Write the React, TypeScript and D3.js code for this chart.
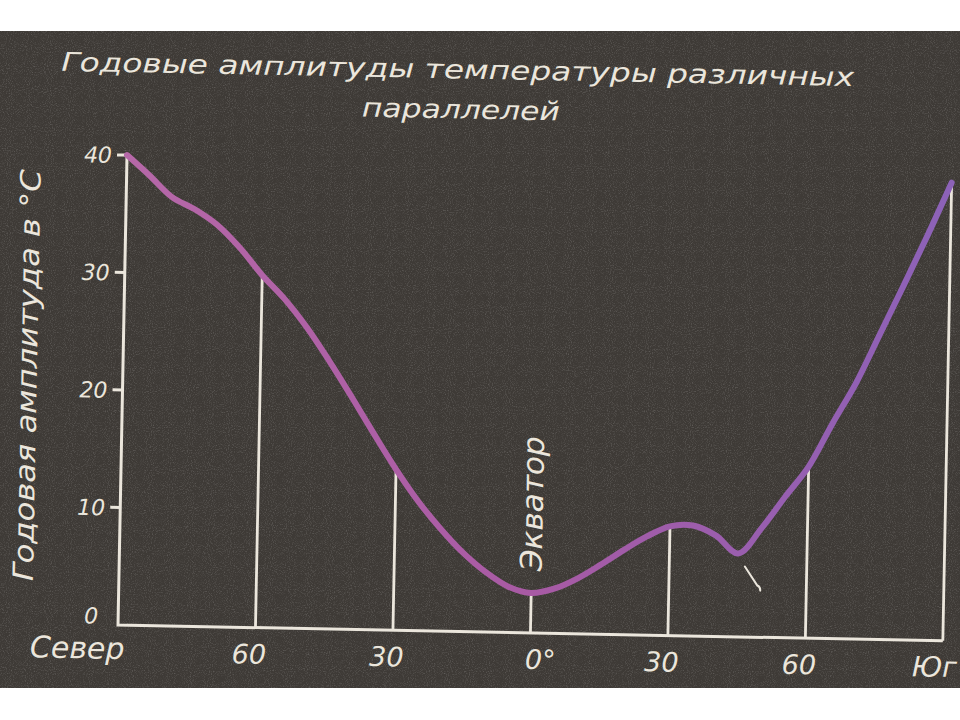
import React from 'react';
import * as d3 from 'd3';

// Latitude position: -90 = North pole (Север), 0 = Equator, +90 = South pole (Юг)
const latitudes = [-90, -85, -80, -75, -70, -65, -60, -55, -50, -45, -40, -35, -30, -25, -20, -15, -10, -5, 0, 5, 10, 15, 20, 25, 30, 35, 40, 45, 50, 55, 60, 65, 70, 75, 80, 85, 90];
const amplitudes = [40, 38.3, 36.5, 35.5, 34.2, 32.3, 30.0, 28.0, 25.6, 22.8, 19.8, 16.7, 13.7, 11.0, 8.7, 6.7, 5.1, 3.9, 3.4, 3.8, 4.7, 5.9, 7.2, 8.4, 9.3, 9.4, 8.6, 7.1, 9.3, 12.0, 14.6, 18.3, 21.8, 26.0, 30.2, 34.5, 39.0];
const yTickValues = [10, 20, 30, 40];
const xLabelLats = [-90, -60, -30, 0, 30, 60, 90];
const xLabelTexts = ['Север', '60', '30', '0°', '30', '60', 'Юг'];
const meridianLats = [-60, -30, 0, 30, 60, 90];
const titleLines = ['Годовые  амплитуды температуры различных', 'параллелей'];
const yAxisTitle = 'Годовая амплитуда в °С';
const equatorLabel = 'Экватор';

const FONT = "'DejaVu Sans', sans-serif";
const INK = '#ebe6dc';

export default function App() {
  const W = 960;
  const H = 720;
  const ox = 118;
  const oy = 625;
  const x = d3.scaleLinear().domain([-90, 90]).range([ox, 943]);
  const y = d3.scaleLinear().domain([0, 40]).range([oy, 155]);
  const data = latitudes.map((l, i) => ({ lat: l, amp: amplitudes[i] }));
  const line = d3
    .line<{ lat: number; amp: number }>()
    .x((d) => x(d.lat))
    .y((d) => y(d.amp))
    .curve(d3.curveCatmullRom.alpha(0.5));
  const ampAt = (lat: number) => amplitudes[latitudes.indexOf(lat)];

  const textStyle = {
    fontFamily: FONT,
    fontStyle: 'italic' as const,
    fill: INK,
  };

  return (
    <svg
      width={W}
      height={H}
      viewBox={`0 0 ${W} ${H}`}
      style={{ position: 'absolute', left: 0, top: 0, display: 'block' }}
    >
      <defs>
        <linearGradient id="curveGrad" gradientUnits="userSpaceOnUse" x1={x(-90)} y1={0} x2={x(90)} y2={0}>
          <stop offset="0" stopColor="#b668a8" />
          <stop offset="0.5" stopColor="#a85aa4" />
          <stop offset="1" stopColor="#8c62b8" />
        </linearGradient>
        <filter id="grain" x="0" y="0" width="100%" height="100%">
          <feTurbulence type="fractalNoise" baseFrequency="0.95" numOctaves="2" seed="4" />
          <feColorMatrix type="matrix" values="0 0 0 0 1  0 0 0 0 1  0 0 0 0 1  2.2 0 0 0 -1.05" />
        </filter>
      </defs>
      <rect x={0} y={0} width={W} height={H} fill="#ffffff" />
      <rect x={0} y={31} width={W} height={657} fill="#3e3a36" />
      <rect x={0} y={31} width={W} height={657} filter="url(#grain)" opacity={0.18} />

      <g transform={`rotate(1.1, ${ox}, ${oy})`}>
        {/* Title */}
        <text x={447} y={72} textAnchor="middle" fontSize={26} textLength={793} lengthAdjust="spacingAndGlyphs" style={textStyle}>
          {titleLines[0]}
        </text>
        <text x={451} y={112} textAnchor="middle" fontSize={26} textLength={198} lengthAdjust="spacingAndGlyphs" style={textStyle}>
          {titleLines[1]}
        </text>

        {/* Y-axis title */}
        <text
          transform={`translate(32, 377) rotate(-90)`}
          textAnchor="middle"
          fontSize={28}
          textLength={412}
          lengthAdjust="spacingAndGlyphs"
          style={textStyle}
        >
          {yAxisTitle}
        </text>

        {/* Meridian lines */}
        {meridianLats.map((lat) => (
          <line
            key={`m${lat}`}
            x1={x(lat)}
            x2={x(lat)}
            y1={y(0)}
            y2={y(ampAt(lat))}
            stroke={INK}
            strokeWidth={2.8}
          />
        ))}

        {/* Axes */}
        <path
          d={`M${x(-90)},${y(40)} V${y(0)} H${x(90)}`}
          fill="none"
          stroke={INK}
          strokeWidth={3}
          strokeLinejoin="miter"
        />
        {yTickValues.map((v) => (
          <line key={`t${v}`} x1={ox - 10} x2={ox} y1={y(v)} y2={y(v)} stroke={INK} strokeWidth={3} />
        ))}
        {yTickValues.map((v) => (
          <text key={`tl${v}`} x={ox - 15} y={y(v) + 8} textAnchor="end" fontSize={22} style={textStyle}>
            {v}
          </text>
        ))}
        <text x={ox - 20} y={y(0) - 1} textAnchor="end" fontSize={22} style={textStyle}>
          0
        </text>

        {/* X labels */}
        {xLabelLats.map((lat, i) => {
          const t = xLabelTexts[i];
          if (i === 0) {
            return (
              <text key={`xl${i}`} x={x(lat) + 7} y={y(0) + 34} textAnchor="end" fontSize={30} style={textStyle}>
                {t}
              </text>
            );
          }
          if (lat === 0) {
            return (
              <text key={`xl${i}`} x={x(lat) - 5} y={y(0) + 36} textAnchor="start" fontSize={27} style={textStyle}>
                {t}
              </text>
            );
          }
          return (
            <text
              key={`xl${i}`}
              x={x(lat) - (lat === 90 ? 8 : 6)}
              y={y(0) + 36}
              textAnchor="middle"
              fontSize={lat === 90 ? 28 : 27}
              style={textStyle}
            >
              {t}
            </text>
          );
        })}

        {/* Equator label */}
        <text
          transform={`translate(${x(0) + 10}, ${y(11)}) rotate(-90)`}
          textAnchor="middle"
          fontSize={30}
          textLength={135}
          lengthAdjust="spacingAndGlyphs"
          style={textStyle}
        >
          {equatorLabel}
        </text>

        {/* small pencil mark near the southern minimum */}
        <path
          d={`M${x(46.5)},${y(6.0)} L${x(49.3)},${y(4.4)} q3,1 3,5`}
          fill="none"
          stroke={INK}
          strokeWidth={2}
          strokeLinecap="round"
        />

        {/* Amplitude curve */}
        <path
          d={line(data) || ''}
          fill="none"
          stroke="url(#curveGrad)"
          strokeWidth={6}
          strokeLinecap="round"
          strokeLinejoin="round"
        />
      </g>
    </svg>
  );
}
